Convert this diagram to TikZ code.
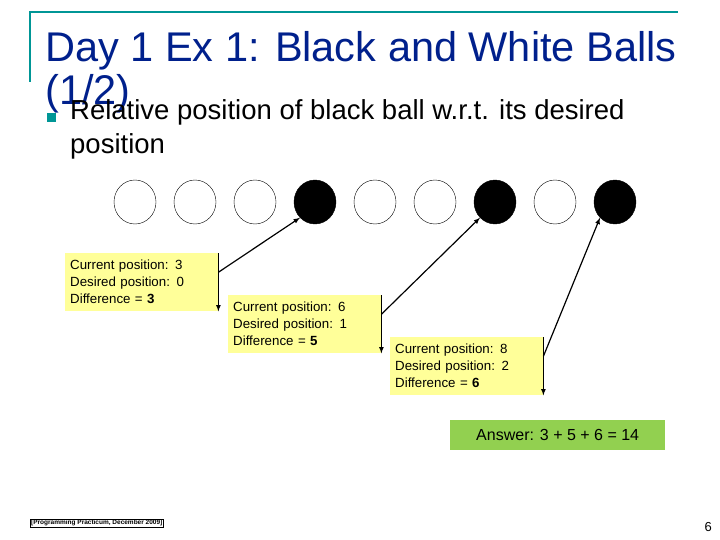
\documentclass[tikz,border=0pt]{standalone}
\usepackage{fontspec}
\setmainfont{Liberation Sans}
\usetikzlibrary{positioning,calc,shapes.geometric}
\definecolor{titleblue}{RGB}{0,32,140}
\definecolor{frameteal}{RGB}{0,150,150}
\definecolor{noteyellow}{RGB}{255,255,153}
\definecolor{answergreen}{RGB}{146,208,80}
\tikzset{
  ball/.style={ellipse, draw, minimum width=42, minimum height=44, inner sep=0},
  note/.style={fill=noteyellow, align=left, anchor=north west, minimum width=153,
    minimum height=58, text width=143, inner sep=5, font=\fontsize{13.3}{17}\selectfont},
}
\begin{document}
\begin{tikzpicture}[x=1pt,y=-1pt]
	\useasboundingbox (0,0) rectangle (720,540);
	
	% frame and title
	\draw[frameteal, line width=2] (30,82) -- (30,12) -- (678,12);
	\node[anchor=base west, inner sep=0, text=titleblue, font=\fontsize{41.5}{41}\selectfont] (title) at (45,62) {Day 1 Ex 1: Black and White Balls};
	\node[anchor=base west, inner sep=0, text=titleblue, font=\fontsize{41.5}{41}\selectfont] (title2) at (45,105) {(1/2)};
	\fill[frameteal] (47,113) rectangle (56,122);
	\node[anchor=base west, inner sep=0, font=\fontsize{27.5}{33}\selectfont] (bullet) at (70,120) {Relative position of black ball w.r.t. its desired};
	\node[anchor=base west, inner sep=0, font=\fontsize{27.5}{33}\selectfont] (bullet2) at (70,154) {position};
	
	% balls
	\foreach \i/\c in {1/white,2/white,3/white,4/black,5/white,6/white,7/black,8/white,9/black}
		\node[ball, fill=\c] (b\i) at (75+60*\i,202) {};
	
	% notes
	\node[note] (n1) at (65,253) {Current position: 3\\Desired position: 0\\Difference = \textbf{3}};
	\node[note] (n2) at (228,295) {Current position: 6\\Desired position: 1\\Difference = \textbf{5}};
	\node[note] (n3) at (390,337) {Current position: 8\\Desired position: 2\\Difference = \textbf{6}};
	
	\foreach \n/\b/\f in {n1/b4/0.33,n2/b7/0.33,n3/b9/0.33} {
		\draw[-latex, line width=1.2] (\n.north east) -- (\n.south east);
		\draw[-latex, line width=1.2] ($(\n.north east)!\f!(\n.south east)$) -- (\b.south west);
	}
	
	% answer
	\node[fill=answergreen, anchor=north west, minimum width=215, minimum height=30, inner sep=0, font=\fontsize{16}{16}\selectfont] (answer) at (450,420) {Answer: 3 + 5 + 6 = 14};
	
	% footer
	\node[draw, anchor=south west, inner sep=1, font=\fontsize{6.5}{7}\selectfont\bfseries] (footer) at (30,527) {[Programming Practicum, December 2009]};
	\node[anchor=base east, inner sep=0, font=\fontsize{13}{13}\selectfont] (page) at (712,531) {6};
	
\end{tikzpicture}
\end{document}
